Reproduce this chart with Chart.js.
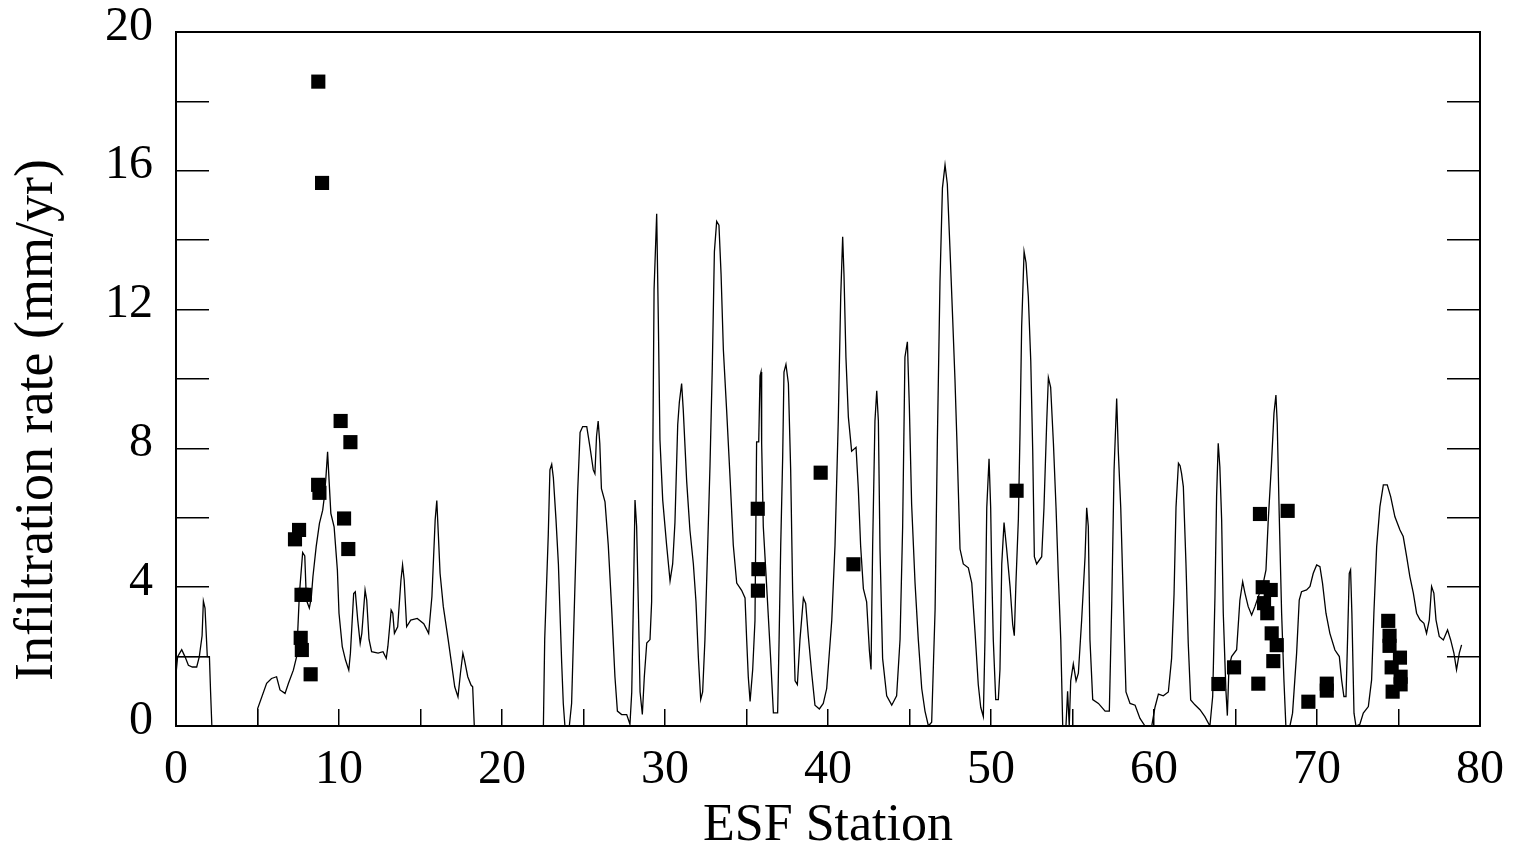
<!DOCTYPE html>
<html>
<head>
<meta charset="utf-8">
<title>Infiltration rate along ESF Station</title>
<script src="https://cdn.jsdelivr.net/npm/chart.js@4.4.1/dist/chart.umd.min.js"></script>
<style>
  html, body { margin: 0; padding: 0; background: #fff; }
  #wrap { width: 1513px; height: 852px; position: relative; }
</style>
</head>
<body>
<div id="wrap"><canvas id="infiltrationChart"></canvas></div>
<script>
// simulated infiltration profile
const lineStation = [
  0, 0.1, 0.35, 0.55, 0.76, 1.0, 1.27, 1.43, 1.6, 1.68, 1.78, 1.92, 2.05, 2.12, 2.2,
  5.0, 5.01, 5.56, 5.86, 6.17, 6.38, 6.69, 6.9, 7.2, 7.4, 7.57, 7.77, 7.9, 8.0, 8.18,
  8.3, 8.4, 8.6, 8.8, 9.0, 9.1, 9.2, 9.3, 9.4, 9.5, 9.7, 9.9, 10.0, 10.2, 10.4,
  10.6, 10.7, 10.9, 11.0, 11.15, 11.3, 11.4, 11.6, 11.7, 11.84, 12.0, 12.4, 12.7, 12.9, 13.0,
  13.2, 13.3, 13.4, 13.6, 13.8, 13.9, 14.0, 14.15, 14.4, 14.8, 15.2, 15.5, 15.7, 15.9, 16.0,
  16.1, 16.2, 16.4, 16.7, 16.9, 17.1, 17.3, 17.45, 17.6, 17.7, 17.9, 18.1, 18.2, 18.3,
  22.54, 22.62, 22.84, 22.94, 23.05, 23.15, 23.31, 23.46, 23.56, 23.66, 23.76, 23.86,
  24.13, 24.27, 24.48, 24.64, 24.79, 24.95, 25.2, 25.4, 25.6, 25.7, 25.8, 25.9, 26.0, 26.1,
  26.32, 26.52, 26.73, 26.93, 27.08, 27.34, 27.65, 27.85, 27.96, 28.06, 28.16, 28.26, 28.36,
  28.47, 28.61, 28.73, 28.88, 29.08, 29.18, 29.24, 29.33, 29.49, 29.59, 29.69, 29.86, 30.1,
  30.31, 30.47, 30.61, 30.78, 30.88, 31.02, 31.12, 31.33, 31.53, 31.74, 31.9, 32.05, 32.19,
  32.31, 32.45, 32.6, 32.76, 32.9, 33.03, 33.17, 33.31, 33.44, 33.58, 33.78, 33.99, 34.19,
  34.4, 34.7, 34.91, 35.01, 35.11, 35.22, 35.38, 35.52, 35.62, 35.75, 35.83, 35.89, 35.93,
  36.03, 36.2, 36.34, 36.48, 36.65, 36.91, 37.0, 37.1, 37.22, 37.3, 37.42, 37.57, 37.71,
  37.83, 37.98, 38.12, 38.28, 38.49, 38.63, 38.79, 39.0, 39.2, 39.47, 39.71, 39.92, 40.23,
  40.43, 40.63, 40.78, 40.9, 40.98, 41.1, 41.25, 41.45, 41.72, 41.86, 42.0, 42.17, 42.37,
  42.54, 42.64, 42.74, 42.88, 42.99, 43.09, 43.19, 43.35, 43.6, 43.91, 44.21, 44.42, 44.58,
  44.72, 44.87, 44.99, 45.13, 45.34, 45.54, 45.75, 45.95, 46.16, 46.36, 46.57, 46.71, 46.87,
  47.02, 47.18, 47.32, 47.49, 47.65, 47.79, 47.9, 48.1, 48.3, 48.61, 48.82, 49.02, 49.22,
  49.37, 49.53, 49.63, 49.74, 49.88, 49.98, 50.04, 50.14, 50.29, 50.45, 50.55, 50.66, 50.8,
  50.96, 51.17, 51.33, 51.43, 51.53, 51.68, 51.78, 51.88, 52.03, 52.15, 52.29, 52.44, 52.56,
  52.66, 52.8, 53.11, 53.25, 53.42, 53.52, 53.66, 53.83, 53.99, 54.13, 54.28, 54.4, 54.6,
  54.7, 54.8, 54.89, 55.05, 55.22, 55.36, 55.56, 55.77, 55.87, 55.97, 56.07, 56.24, 56.59,
  57.0, 57.26, 57.41, 57.55, 57.71, 57.81, 57.96, 58.12, 58.28, 58.53, 58.84, 59.14, 59.45,
  59.86, 60.06, 60.27, 60.57, 60.88, 61.08, 61.23, 61.35, 61.5, 61.6, 61.69, 61.8, 61.96,
  62.1, 62.25, 62.51, 62.82, 63.12, 63.43, 63.6, 63.74, 63.84, 63.94, 64.04, 64.15, 64.25,
  64.41, 64.5, 64.6, 64.76, 65.07, 65.27, 65.44, 65.58, 65.78, 65.99, 66.19, 66.4, 66.7,
  66.87, 67.01, 67.21, 67.36, 67.48, 67.56, 67.68, 67.83, 67.97, 68.09, 68.34, 68.5, 68.75,
  68.91, 69.05, 69.36, 69.57, 69.77, 69.98, 70.18, 70.34, 70.55, 70.79, 71.1, 71.37, 71.51,
  71.65, 71.78, 71.88, 71.98, 72.06, 72.14, 72.27, 72.39, 72.63, 72.84, 73.15, 73.35, 73.49,
  73.66, 73.86, 74.07, 74.31, 74.52, 74.78, 75.09, 75.29, 75.5, 75.7, 75.91, 76.11, 76.32,
  76.56, 76.72, 76.89, 77.03, 77.17, 77.3, 77.5, 77.75, 78.01, 78.2, 78.4, 78.56, 78.73, 78.87
];
const lineRate = [
  1.5, 2.0, 2.2, 2.0, 1.75, 1.7, 1.7, 2.0, 2.6, 3.6, 3.4, 2.0, 2.0, 1.0, 0,
  0, 0.5, 1.23, 1.37, 1.42, 1.04, 0.94, 1.23, 1.61, 2.0, 3.8, 5.0, 4.9, 3.63, 3.4,
  3.7, 4.3, 5.17, 5.84, 6.22, 6.6, 7.18, 7.9, 7.0, 6.13, 5.74, 4.5, 3.25, 2.29, 1.9,
  1.61, 2.1, 3.82, 3.87, 3.05, 2.38, 2.67, 3.92, 3.63, 2.5, 2.14, 2.1, 2.14, 1.95, 2.3,
  3.34, 3.25, 2.67, 2.86, 4.2, 4.64, 4.2, 2.86, 3.05, 3.1, 2.95, 2.67, 3.73, 5.94, 6.5,
  5.46, 4.4, 3.44, 2.48, 1.81, 1.13, 0.84, 1.52, 2.1, 1.9, 1.42, 1.18, 1.13, 0,
  0, 2.5, 5.53, 7.38, 7.54, 7.16, 5.97, 4.67, 3.25, 1.84, 0.65, 0,
  0, 0.65, 4.12, 6.73, 8.46, 8.63, 8.63, 8.03, 7.38, 7.27, 8.35, 8.79, 8.14, 6.84,
  6.46, 5.21, 3.36, 1.41, 0.43, 0.33, 0.33, 0.05, 0.98, 3.58, 6.51, 5.75, 3.58,
  0.98, 0.33, 1.41, 2.39, 2.49, 3.58, 7.16, 12.59, 14.76, 11.72, 8.25, 6.51, 5.21,
  4.18, 4.67, 5.86, 8.68, 9.33, 9.87, 9.11, 7.05, 5.64, 4.67, 3.58, 1.95, 0.76,
  0.98, 2.49, 4.88, 7.49, 10.31, 13.67, 14.54, 14.43, 13.02, 10.85, 9.11, 7.16, 5.21,
  4.12, 3.91, 3.69, 2.49, 1.41, 0.71, 1.63, 3.04, 8.19, 8.19, 10.09, 10.2, 8.14,
  5.75, 4.34, 3.15, 1.95, 0.38, 0.38, 2.49, 5.21, 7.76, 10.2, 10.42, 9.87, 7.38,
  3.91, 1.3, 1.19, 2.49, 3.69, 3.53, 2.6, 1.52, 0.6, 0.49, 0.65, 1.08, 3.04,
  5.21, 8.79, 12.37, 14.1, 13.02, 10.63, 8.9, 7.92, 8.03, 6.84, 5.21, 3.96, 3.58,
  2.17, 1.63, 5.21, 8.79, 9.66, 8.79, 5.1, 1.95, 0.87, 0.6, 0.87, 2.49, 5.75,
  10.63, 11.07, 9.22, 6.4, 4.12, 2.49, 1.08, 0.43, 0, 0.11, 3.36, 8.25, 12.8,
  15.5, 16.17, 15.62, 13.67, 11.72, 9.98, 8.35, 5.1, 4.67, 4.56, 4.12, 2.71, 1.19,
  0.54, 0.27, 2.49, 6.29, 7.7, 6.29, 4.56, 2.49, 0.76, 0.76, 1.63, 4.67, 5.86,
  5.1, 4.01, 2.93, 2.6, 4.12, 5.97, 8.46, 11.5, 13.67, 13.35, 12.37, 10.52, 7.92,
  4.88, 4.67, 4.88, 6.29, 8.79, 10.04, 9.76, 8.14, 6.29, 4.34, 2.49, 0, 0,
  1.0, 0, 1.3, 1.79, 1.3, 1.52, 3.04, 4.88, 6.29, 5.75, 2.49, 0.76, 0.65,
  0.43, 0.43, 3.58, 7.38, 9.44, 7.92, 6.29, 3.58, 0.98, 0.65, 0.6, 0.22, 0,
  0, 0.54, 0.92, 0.87, 0.98, 1.95, 3.8, 6.3, 7.57, 7.5, 7.28, 6.9, 4.69,
  2.39, 0.75, 0.61, 0.47, 0.27, 0, 0.85, 3.73, 6.61, 8.15, 7.47, 5.94, 3.25,
  1.04, 0.3, 1.7, 2.0, 2.2, 3.63, 4.16, 3.83, 3.44, 3.2, 3.44, 3.73, 4.11,
  4.5, 5.94, 7.57, 9.01, 9.54, 8.72, 6.13, 3.25, 1.33, 0, 0, 0.37, 2.1,
  3.63, 3.87, 3.92, 4.02, 4.4, 4.64, 4.59, 4.11, 3.25, 2.67, 2.19, 2.0, 1.33,
  0.85, 0.85, 2.58, 4.4, 4.5, 3.25, 0.37, 0, 0.05, 0.37, 0.56, 1.33, 3.25,
  5.17, 6.32, 6.95, 6.95, 6.61, 6.03, 5.65, 5.46, 4.88, 4.3, 3.83, 3.25, 3.06,
  2.96, 2.67, 3.06, 4.02, 3.83, 3.06, 2.58, 2.48, 2.77, 2.48, 2.1, 1.62, 2.1, 2.34
];

// short flat trace at the start of the profile
const flatStation = [0, 2.05];
const flatRate = [2.0, 2.0];

// measured values (black squares)
const markerStation = [
  8.73, 8.96, 10.1, 10.7, 8.72, 8.8, 10.31, 10.57, 7.55, 7.3, 7.7, 7.9, 7.65, 7.72, 8.26,
  35.69, 35.73, 35.7, 39.55, 41.56, 51.57,
  63.95, 64.91, 66.5, 68.2, 66.4, 66.67, 67.16, 66.75, 66.95, 67.22, 67.53, 67.32,
  69.47, 70.6, 70.6, 74.37, 74.45, 74.45, 75.09, 74.58, 75.13, 75.13, 74.64
];
const markerRate = [
  18.57, 15.65, 8.79, 8.18, 6.95, 6.72, 5.98, 5.1, 5.65, 5.38, 3.78, 3.78, 2.54, 2.19, 1.49,
  6.26, 4.52, 3.9, 7.3, 4.66, 6.78,
  1.21, 1.69, 6.11, 6.2, 1.22, 4.0, 3.92, 3.54, 3.25, 2.67, 2.33, 1.87,
  0.7, 1.22, 1.02, 3.03, 2.6, 2.31, 1.97, 1.69, 1.42, 1.2, 0.99
];

const xTicksEvery = 10;
const yTicksEvery = 4;

function toPoints(xs, ys) {
  return xs.map(function (x, i) { return { x: x, y: ys[i] }; });
}

// fixed box sizes so the plot frame lands where the original one is
function fixBox(w, h) {
  return function (s) {
    if (w !== null) s.width = w;
    if (h !== null) s.height = h;
    s.paddingTop = 0;
    s.paddingBottom = 0;
    s.paddingLeft = 0;
    s.paddingRight = 0;
  };
}

const serif = '"Liberation Serif", "Times New Roman", serif';
Chart.defaults.font.family = serif;
Chart.defaults.color = '#000';

const yTitlePlugin = {
  id: 'yTitle',
  afterDraw: function (chart) {
    const ctx = chart.ctx;
    ctx.save();
    ctx.translate(38, 420);
    ctx.rotate(-Math.PI / 2);
    ctx.font = '54px ' + serif;
    ctx.fillStyle = '#000';
    ctx.textAlign = 'center';
    ctx.textBaseline = 'middle';
    ctx.fillText('Infiltration rate (mm/yr)', 0, 0);
    ctx.restore();
  }
};

const ctx = document.getElementById('infiltrationChart').getContext('2d');
new Chart(ctx, {
  type: 'scatter',
  data: {
    datasets: [
      {
        label: 'Measured',
        data: toPoints(markerStation, markerRate),
        pointStyle: 'rect',
        pointRadius: 10,
        pointHoverRadius: 10,
        backgroundColor: '#000',
        borderWidth: 0
      },
      {
        label: 'Simulated',
        data: toPoints(lineStation, lineRate),
        showLine: true,
        borderColor: '#000',
        borderWidth: 1.3,
        pointRadius: 0,
        tension: 0
      },
      {
        label: 'Flat',
        data: toPoints(flatStation, flatRate),
        showLine: true,
        borderColor: '#000',
        borderWidth: 1.3,
        pointRadius: 0
      }
    ]
  },
  options: {
    responsive: true,
    maintainAspectRatio: false,
    animation: false,
    layout: { padding: { top: 32, right: 33, left: 0, bottom: 0 } },
    plugins: {
      legend: { display: false },
      tooltip: { enabled: false }
    },
    scales: {
      x: {
        type: 'linear',
        position: 'bottom',
        min: 0,
        max: 80,
        afterFit: fixBox(null, 126),
        ticks: {
          stepSize: 5,
          autoSkip: false,
          maxRotation: 0,
          padding: 33,
          font: { size: 48 },
          callback: function (v) { return v % xTicksEvery === 0 ? v : ''; }
        },
        grid: { drawOnChartArea: false, tickLength: -17, color: '#000', lineWidth: 1.5 },
        border: { color: '#000', width: 2 },
        title: {
          display: true,
          text: 'ESF Station',
          font: { size: 52, lineHeight: 1 },
          padding: { top: 0, bottom: 0 }
        }
      },
      x2: {
        type: 'linear',
        position: 'top',
        min: 0,
        max: 80,
        afterFit: fixBox(null, 0),
        ticks: { display: false },
        grid: { drawOnChartArea: false, drawTicks: false },
        border: { color: '#000', width: 2 }
      },
      y: {
        position: 'left',
        min: 0,
        max: 20,
        afterFit: fixBox(176, null),
        ticks: {
          stepSize: 2,
          autoSkip: false,
          padding: 56,
          labelOffset: -5,
          font: { size: 48 },
          callback: function (v) { return v % yTicksEvery === 0 ? v : ''; }
        },
        grid: { drawOnChartArea: false, tickLength: -33, color: '#000', lineWidth: 1.5 },
        border: { color: '#000', width: 2 }
      },
      y2: {
        position: 'right',
        min: 0,
        max: 20,
        afterFit: fixBox(0, null),
        ticks: { stepSize: 2, autoSkip: false, display: false },
        grid: { drawOnChartArea: false, tickLength: -33, color: '#000', lineWidth: 1.5 },
        border: { color: '#000', width: 2 }
      }
    }
  },
  plugins: [yTitlePlugin]
});
</script>
</body>
</html>
